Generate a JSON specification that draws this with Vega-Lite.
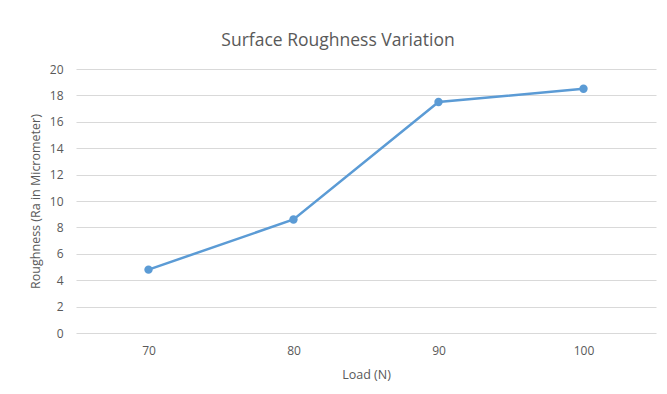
{
  "$schema": "https://vega.github.io/schema/vega-lite/v6.json",
  "width": 580,
  "height": 264,
  "autosize": {"type": "none"},
  "padding": {"left": 76, "top": 69, "right": 11, "bottom": 61},
  "background": "white",
  "config": {
    "view": {"stroke": null},
    "font": "Open Sans",
    "axis": {
      "domain": false,
      "ticks": false,
      "gridColor": "#d9d9d9",
      "gridWidth": 1,
      "labelColor": "#595959",
      "labelFont": "Open Sans",
      "labelFontSize": 12,
      "titleColor": "#595959",
      "titleFont": "Open Sans",
      "titleFontSize": 12.5,
      "titleFontWeight": "normal"
    }
  },
  "title": {
    "text": "Surface Roughness Variation",
    "font": "Open Sans",
    "fontSize": 17.5,
    "fontWeight": "normal",
    "color": "#595959",
    "anchor": "middle",
    "dx": -28,
    "offset": 14
  },
  "data": {
    "values": [
      {"load": "70", "roughness": 4.8},
      {"load": "80", "roughness": 8.6},
      {"load": "90", "roughness": 17.5},
      {"load": "100", "roughness": 18.5}
    ]
  },
  "encoding": {
    "x": {
      "field": "load",
      "type": "ordinal",
      "sort": null,
      "scale": {"padding": 0.5},
      "axis": {"title": "Load (N)", "labelAngle": 0, "grid": false, "labelPadding": 12, "titlePadding": 12}
    },
    "y": {
      "field": "roughness",
      "type": "quantitative",
      "scale": {"domain": [0, 20], "nice": false},
      "axis": {"title": "Roughness (Ra in Micrometer)", "values": [0, 2, 4, 6, 8, 10, 12, 14, 16, 18, 20], "labelPadding": 13, "titlePadding": 7}
    }
  },
  "layer": [
    {"mark": {"type": "line", "color": "#5B9BD5", "strokeWidth": 2.5}},
    {"mark": {"type": "point", "filled": true, "color": "#5B9BD5", "size": 70, "opacity": 1}}
  ]
}
